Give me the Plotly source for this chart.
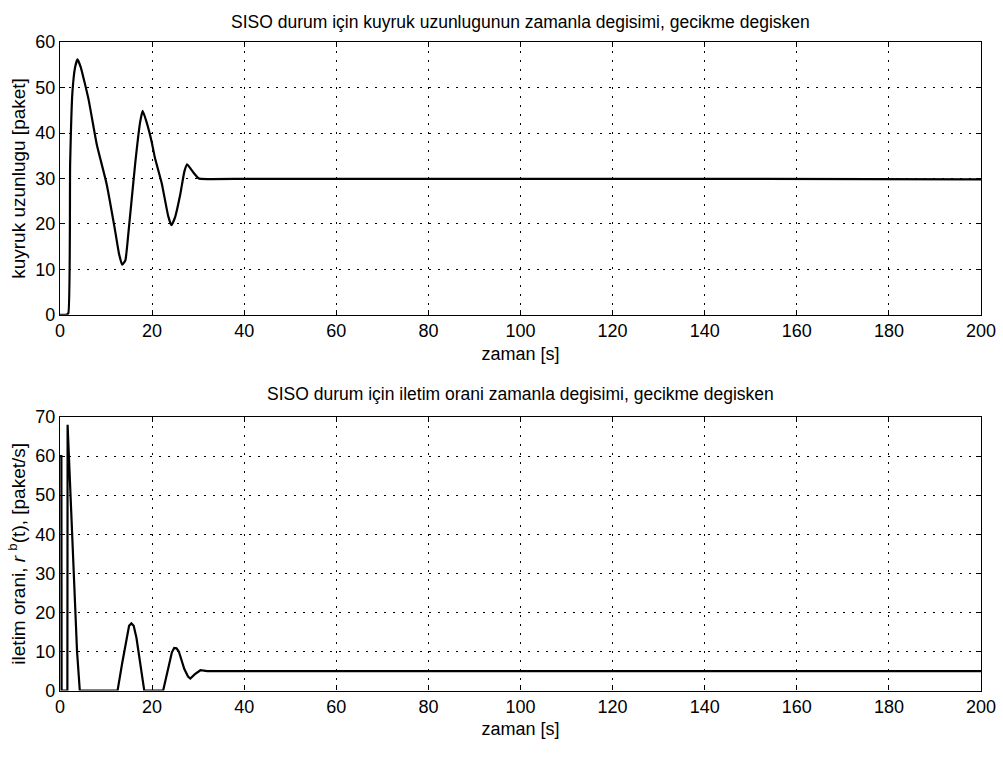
import plotly.graph_objects as go

# ---- data ----
t_queue = [0, 1.3, 1.8, 2.2, 2.7, 3.3, 3.8, 4.5, 6.2, 8.0, 10.1, 11.9, 12.8, 13.5, 14.2,
           14.8, 16.3, 17.4, 17.95, 18.8, 19.9, 20.6, 22.1, 23.5, 24.2, 25.0, 26.1,
           27.0, 27.6, 28.9, 30.0, 30.6, 40, 60, 100, 150, 200]
queue = [0, 0, 0.3, 33, 49, 54.6, 56.2, 54.5, 47.4, 37.4, 28.9, 18.9, 13.5, 11.0, 12.0,
         17.4, 33, 42.4, 44.9, 42.4, 38.1, 34.6, 28.9, 21.7, 19.7, 21.5, 26.4,
         31.5, 33.1, 31.4, 30.1, 29.9, 29.9, 29.9, 29.9, 29.9, 29.8]

t_rate = [0, 0.3, 0.35, 1.6, 1.65, 2.5, 3.2, 3.7, 4.3, 12.5, 13.5, 14.5, 15.0, 15.5, 16.0,
          16.6, 17.3, 18.3, 22.4, 23.3, 24.3, 24.8, 25.3, 25.8, 27.0, 27.8, 28.3, 29.3,
          30.5, 32, 40, 100, 200]
rate = [60, 60, 0, 0, 68, 45, 27, 10, 0, 0, 7, 14, 16.6, 17.2, 16.6,
        13.5, 8, 0, 0, 5, 9.8, 10.9, 10.8, 10, 5.5, 3.6, 3.1, 4.2,
        5.2, 5.0, 5.0, 5.0, 5.0]

x_ticks = [0, 20, 40, 60, 80, 100, 120, 140, 160, 180, 200]
y1_ticks = [0, 10, 20, 30, 40, 50, 60]
y2_ticks = [0, 10, 20, 30, 40, 50, 60, 70]

title1 = "SISO durum için kuyruk uzunlugunun zamanla degisimi, gecikme degisken"
title2 = "SISO durum için iletim orani zamanla degisimi, gecikme degisken"
ylab1 = "kuyruk uzunlugu [paket]"
ylab2 = "iletim orani, <i>r</i> <sup>b</sup>(t), [paket/s]"
xlab = "zaman [s]"

FONT = "Liberation Sans, Arial, sans-serif"
W, H = 1003, 759

fig = go.Figure()
fig.add_trace(go.Scatter(x=t_queue, y=queue, mode="lines",
                         line=dict(color="black", width=2.2, shape="spline", smoothing=0.4),
                         xaxis="x", yaxis="y", showlegend=False))
fig.add_trace(go.Scatter(x=t_rate, y=rate, mode="lines",
                         line=dict(color="black", width=2.2),
                         xaxis="x2", yaxis="y2", showlegend=False))

def py(p):
    return 1 - p / H

axis_common = dict(showline=True, linecolor="black", linewidth=1.2, mirror="ticks",
                   ticks="inside", ticklen=5, tickcolor="black", showgrid=True,
                   gridcolor="black", gridwidth=1.3, griddash="2px,7px", zeroline=False,
                   tickfont=dict(family=FONT, size=18, color="black"))

lab_font = dict(family=FONT, size=18, color="black")

fig.update_layout(
    width=W, height=H, paper_bgcolor="white", plot_bgcolor="white",
    margin=dict(l=60, r=22, t=0, b=0),
    xaxis=dict(domain=[0, 1], range=[0, 200], tickvals=x_ticks, anchor="y",
               title=dict(text=xlab, font=lab_font, standoff=6),
               **axis_common),
    yaxis=dict(domain=[py(313), py(33)], range=[0, 60], tickvals=y1_ticks, anchor="x",
               title=dict(text=ylab1, font=dict(family=FONT, size=19, color="black"), standoff=4),
               **axis_common),
    xaxis2=dict(domain=[0, 1], range=[0, 200], tickvals=x_ticks, anchor="y2",
                title=dict(text=xlab, font=lab_font, standoff=6),
                **axis_common),
    yaxis2=dict(domain=[py(699), py(418)], range=[0, 70], tickvals=y2_ticks, anchor="x2",
                title=dict(text=ylab2, font=dict(family=FONT, size=19, color="black"), standoff=4),
                **axis_common),
    annotations=[
        dict(text=title1, x=0.5, xref="paper", y=py(12), yref="paper", showarrow=False,
             font=dict(family=FONT, size=17.5, color="black"), xanchor="center", yanchor="middle"),
        dict(text=title2, x=0.5, xref="paper", y=py(394), yref="paper", showarrow=False,
             font=dict(family=FONT, size=17.5, color="black"), xanchor="center", yanchor="middle"),
    ],
)

fig.write_html("out.html")
